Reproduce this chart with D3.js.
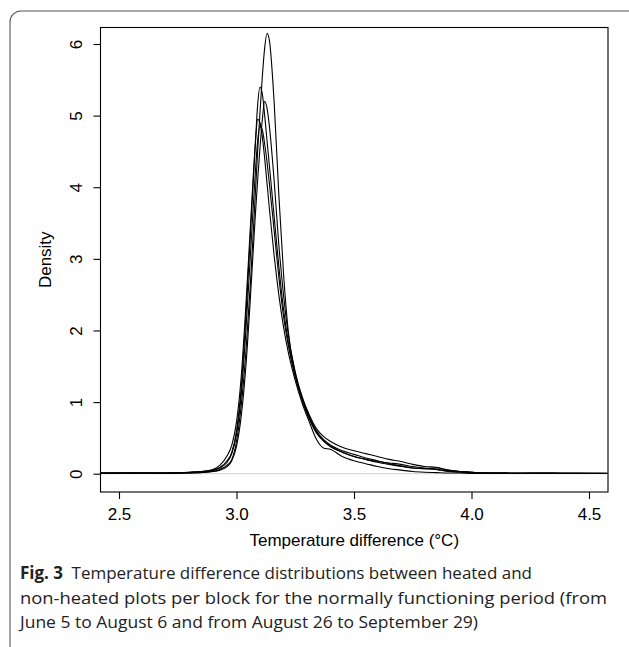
<!DOCTYPE html>
<html>
<head>
<meta charset="utf-8">
<script src="https://cdn.jsdelivr.net/npm/d3@7"></script>
<style>
  body { margin: 0; background: #fff; }
  svg { display: block; }
</style>
</head>
<body>
<svg id="chart" width="629" height="647"></svg>
<script>
// grid of temperature differences (°C) where the densities were read
const xs = [2.42, 2.5, 2.6, 2.7, 2.8, 2.85, 2.9, 2.93, 2.96, 2.98, 3.0, 3.02, 3.04, 3.06, 3.08, 3.09, 3.10, 3.11, 3.12, 3.13,
            3.14, 3.16, 3.18, 3.20, 3.22, 3.25, 3.28, 3.31, 3.34, 3.37, 3.40, 3.45, 3.50, 3.55, 3.60, 3.65, 3.70, 3.75, 3.80, 3.85,
            3.90, 3.95, 4.0, 4.05, 4.1, 4.2, 4.3, 4.4, 4.5, 4.58];

// one density curve per block
const block1 = [.01, .01, .01, .005, .01, .015, .03, .06, .12, .2, .45, .95, 1.7, 2.7, 3.9, 4.5, 5.05, 5.55, 5.95, 6.15,
                6.05, 5.2, 3.9, 2.8, 2.0, 1.4, 1.02, .76, .57, .46, .38, .3, .24, .2, .17, .15, .13, .1, .08, .06,
                .04, .03, .02, .01, .01, .005, .005, .003, .003, .002];
const block2 = [.01, .01, .005, .01, .02, .03, .05, .09, .18, .3, .6, 1.2, 2.2, 3.4, 4.6, 5.15, 5.4, 5.3, 5.0, 4.65,
                4.3, 3.6, 2.9, 2.3, 1.85, 1.38, 1.05, .8, .6, .48, .4, .32, .27, .22, .18, .14, .11, .08, .07, .06,
                .03, .02, .015, .01, .005, .005, .01, .005, .005, .003];
const block3 = [.005, .005, .01, .01, .01, .02, .03, .05, .1, .18, .38, .8, 1.5, 2.5, 3.6, 4.1, 4.55, 4.95, 5.2, 5.1,
                4.85, 4.1, 3.2, 2.5, 1.95, 1.42, 1.07, .82, .63, .52, .45, .37, .32, .28, .24, .2, .17, .13, .1, .09,
                .05, .03, .02, .01, .01, .005, .005, .005, .003, .002];
const block4 = [.01, .01, .01, .01, .02, .03, .06, .12, .25, .4, .72, 1.35, 2.35, 3.5, 4.6, 4.95, 4.9, 4.7, 4.4, 4.05,
                3.7, 3.05, 2.5, 2.05, 1.7, 1.3, .98, .72, .48, .36, .34, .24, .18, .14, .1, .07, .05, .03, .02, .015,
                .01, .01, .005, .005, .005, .005, .005, .005, .005, .005];
const block5 = [.005, .01, .01, .01, .015, .025, .045, .08, .16, .28, .55, 1.1, 2.0, 3.1, 4.2, 4.65, 4.85, 4.8, 4.6, 4.35,
                4.05, 3.4, 2.75, 2.2, 1.8, 1.35, 1.03, .78, .58, .46, .38, .3, .24, .2, .16, .13, .1, .08, .07, .08,
                .05, .03, .02, .01, .01, .005, .005, .005, .005, .005];
const blocks = [block1, block2, block3, block4, block5];

const xTicks = [2.5, 3.0, 3.5, 4.0, 4.5];
const yTicks = [0, 1, 2, 3, 4, 5, 6];

const captionLines = [
  "Temperature difference distributions between heated and",
  "non-heated plots per block for the normally functioning period (from",
  "June 5 to August 6 and from August 26 to September 29)"
];

const axisFont = '"Liberation Sans", Arial, sans-serif';
const axisSize = '17px';

const svg = d3.select('#chart');

// outer frame of the figure panel (runs off the right and bottom edges)
svg.append('rect')
    .attr('x', 10).attr('y', 11)
    .attr('width', 650).attr('height', 700)
    .attr('rx', 11)
    .attr('fill', 'none')
    .attr('stroke', '#555')
    .attr('stroke-width', 1.1);

const plot = {left: 100.5, right: 608, top: 27.5, bottom: 492};

const x = d3.scaleLinear().domain([2.5, 4.5]).range([119, 589]);
const y = d3.scaleLinear().domain([0, 6]).range([473.7, 44]);

// zero reference line
svg.append('line')
    .attr('x1', plot.left).attr('x2', plot.right)
    .attr('y1', y(0)).attr('y2', y(0))
    .attr('stroke', '#d0d0d0').attr('stroke-width', 1);

const line = d3.line()
    .x((d, i) => x(xs[i]))
    .y(d => y(d))
    .curve(d3.curveMonotoneX);

svg.append('g')
    .selectAll('path')
    .data(blocks)
    .join('path')
    .attr('d', line)
    .attr('fill', 'none')
    .attr('stroke', '#000')
    .attr('stroke-width', 1.1);

// plot box
svg.append('rect')
    .attr('x', plot.left).attr('y', plot.top)
    .attr('width', plot.right - plot.left).attr('height', plot.bottom - plot.top)
    .attr('fill', 'none').attr('stroke', '#000').attr('stroke-width', 1.1);

const xAxis = svg.append('g')
    .attr('transform', `translate(0,${plot.bottom})`)
    .call(d3.axisBottom(x).tickValues(xTicks).tickSize(7).tickPadding(9).tickFormat(d3.format('.1f')));
xAxis.select('.domain').remove();

const yAxis = svg.append('g')
    .attr('transform', `translate(${plot.left},0)`)
    .call(d3.axisLeft(y).tickValues(yTicks).tickSize(7).tickFormat(d3.format('d')));
yAxis.select('.domain').remove();
yAxis.selectAll('.tick text')
    .attr('x', 0).attr('dy', '0.36em')
    .attr('text-anchor', 'middle')
    .attr('transform', 'translate(-25,0) rotate(-90)');

svg.selectAll('.tick line').attr('stroke', '#000').attr('stroke-width', 1.1);
svg.selectAll('.tick text')
    .attr('fill', '#000')
    .style('font-family', axisFont)
    .style('font-size', axisSize);

// axis titles
svg.append('text')
    .attr('x', (plot.left + plot.right) / 2).attr('y', 546)
    .attr('text-anchor', 'middle')
    .style('font-family', axisFont)
    .style('font-size', axisSize)
    .text('Temperature difference (°C)');

svg.append('text')
    .attr('transform', `translate(51,${(plot.top + plot.bottom) / 2}) rotate(-90)`)
    .attr('text-anchor', 'middle')
    .style('font-family', axisFont)
    .style('font-size', axisSize)
    .text('Density');

// caption, each line squeezed to the width it takes in the figure
const cap = svg.append('g')
    .style('font-family', '"Open Sans", "Noto Sans", sans-serif')
    .style('font-size', '17px')
    .attr('fill', '#222');

const capY = [579, 603.5, 628];
const capWidth = [512, 587, 458];
const capText = capY.map((v, i) => cap.append('text')
    .attr('x', 20).attr('y', v)
    .attr('textLength', capWidth[i])
    .attr('lengthAdjust', 'spacingAndGlyphs'));
capText[0].append('tspan').style('font-weight', 'bold').text('Fig. 3');
capText[0].append('tspan').text('\u2002' + captionLines[0]);
capText[1].text(captionLines[1]);
capText[2].text(captionLines[2]);
</script>
</body>
</html>
